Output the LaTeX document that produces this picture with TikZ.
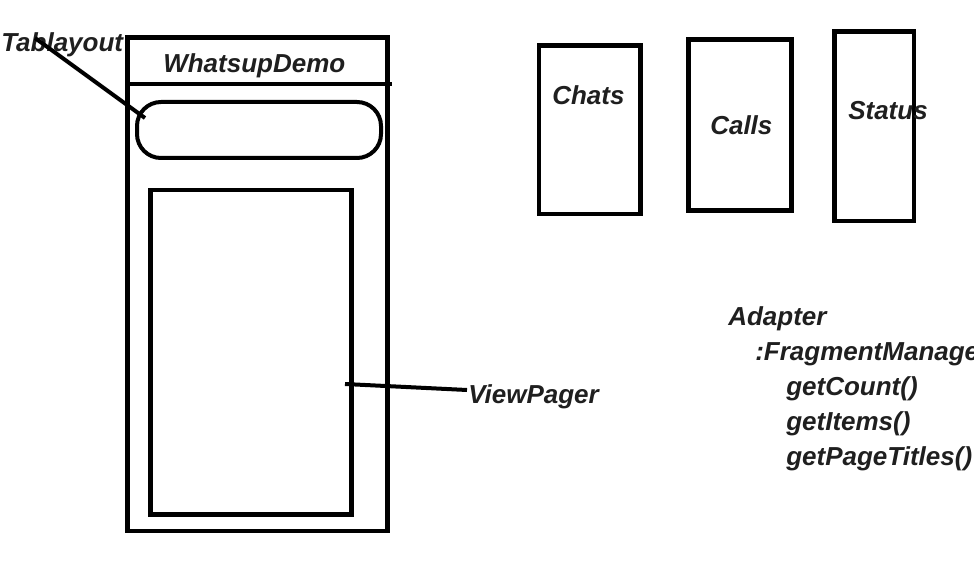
\documentclass[tikz,border=0pt]{standalone}
\usepackage{fontspec}
\setmainfont{Liberation Sans}
\usepackage{tikz}

\begin{document}
\begin{tikzpicture}[x=0.75pt,y=-0.75pt,
  lbl/.style={anchor=base west,inner sep=0pt,text=black!88,font=\fontsize{19.5}{23}\selectfont\bfseries\itshape},
  frame/.style={line width=3.7pt},
  box/.style={line width=3.4pt},
  wire/.style={line width=3pt}]
\useasboundingbox (0,0) rectangle (974,563);

% phone
\draw[frame] (127.5,37.5) rectangle (387.5,531);
\draw[frame] (127.5,84) -- (392,84);
\draw[wire,rounded corners=18pt] (137,102) rectangle (381,158);
\draw[box] (150.5,190) rectangle (351.5,514.5);

\node (title) at (163,73) [lbl] {WhatsupDemo};
\node (tablbl) at (1,52) [lbl] {Tablayout};
\node (vplbl) at (468,403) [lbl] {ViewPager};

\coordinate (tabroot) at (35,38);
\coordinate (tabtip) at (145,118);
\coordinate (vproot) at (345,384);
\coordinate (vptip) at (467,390);
\draw[wire] (tabroot) -- (tabtip);
\draw[wire] (vproot) -- (vptip);

% fragments
\draw[box] (539,45.5) rectangle (640.5,214);
\draw[box] (688.3,39.7) rectangle (791.5,210.5);
\draw[box] (834.5,31.7) rectangle (914,221);
\node (chats) at (552,105) [lbl] {Chats};
\node (calls) at (710,135) [lbl] {Calls};
\node (status) at (848,120) [lbl] {Status};

% adapter
\node (adapter) at (728,325) [lbl] {Adapter};
\node (fm) at (755,360) [lbl] {:FragmentManager};
\node (count) at (786,395) [lbl] {getCount()};
\node (items) at (786,430) [lbl] {getItems()};
\node (titles) at (786,465) [lbl] {getPageTitles()};
\end{tikzpicture}
\end{document}
